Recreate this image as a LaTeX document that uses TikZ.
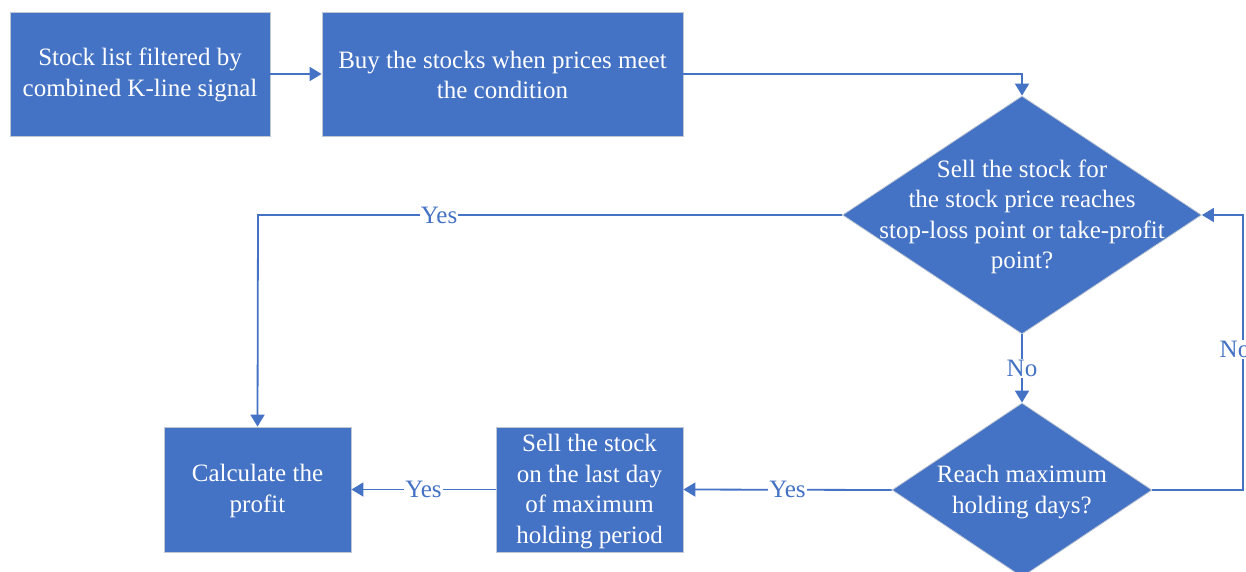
\documentclass[tikz,border=0pt]{standalone}
\usepackage{fontspec}
\setmainfont{Liberation Serif}
\usetikzlibrary{arrows.meta,shapes.geometric}
\definecolor{boxblue}{HTML}{4472C4}
\definecolor{edgegray}{HTML}{BFC6D4}
\begin{document}
\begin{tikzpicture}[x=1pt,y=-1pt,
  every node/.style={font=\fontsize{25}{30.5}\selectfont},
  procbox/.style={rectangle,fill=boxblue,draw=edgegray,line width=0.8pt,inner sep=0pt},
  decbox/.style={diamond,fill=boxblue,draw=edgegray,line width=0.8pt,inner sep=0pt},
  wtext/.style={text=white,align=center,inner sep=0pt},
  conn/.style={draw=boxblue,line width=1.8pt,-{Triangle[length=12pt,width=14pt]}},
  lbl/.style={text=boxblue,fill=white,inner sep=1pt}]
\useasboundingbox (0,0) rectangle (1246,571);
% process boxes
\node[procbox,minimum width=260,minimum height=124] (b1) at (140,74) {};
\node[wtext] at (140,75) {Stock list filtered by\\combined K-line signal};
\node[procbox,minimum width=361,minimum height=124] (b2) at (502.5,74) {};
\node[wtext] at (502.5,75) {Buy the stocks when prices meet\\the condition};
\node[procbox,minimum width=187,minimum height=125] (calc) at (257.5,489.5) {};
\node[wtext] at (257.5,491) {Calculate the\\profit};
\node[procbox,minimum width=187,minimum height=125] (sell) at (589.5,489.5) {};
\node[wtext] at (589.5,491.5) {Sell the stock\\on the last day\\of maximum\\holding period};
% decisions
\node[decbox,minimum width=359,minimum height=238] (d1) at (1022,215) {};
\node[wtext] at (1022,217) {Sell the stock for\\the stock price reaches\\stop-loss point or take-profit\\point?};
\node[decbox,minimum width=260,minimum height=174] (d2) at (1022,490) {};
\node[wtext] at (1022,492) {Reach maximum\\holding days?};
% helper coordinates
\coordinate (c1) at (1022,74);
\coordinate (c2) at (258,215);
\coordinate (c3) at (1243,490);
\coordinate (c4) at (1243,215);
% connectors
\draw[conn] (b1.east) -- (b2.west);
\draw[conn] (b2.east) -- (c1) -- (d1.north);
\draw[conn] (d1.west) -- node[lbl,pos=0.69] {Yes} (c2) -- (calc.north);
\draw[conn] (d1.south) -- node[lbl,pos=0.5] {No} (d2.north);
\draw[conn] (d2.west) -- node[lbl,pos=0.5] {Yes} (sell.east);
\draw[conn] (sell.west) -- node[lbl,pos=0.5] {Yes} (calc.east);
\draw[conn] (d2.east) -- (c3) -- node[lbl,pos=0.51,xshift=-8pt] {No} (c4) -- (d1.east);
\end{tikzpicture}
\end{document}
